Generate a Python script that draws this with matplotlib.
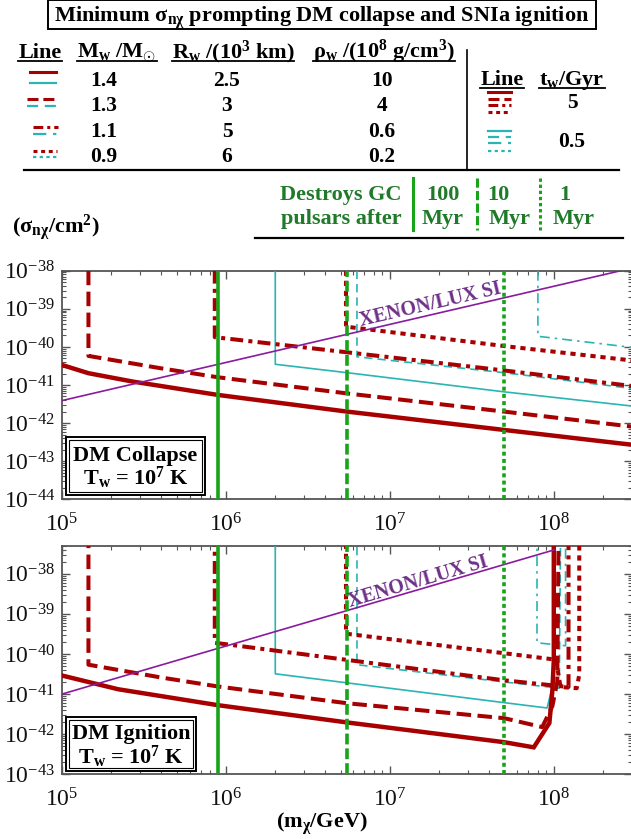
import numpy as np
import matplotlib
matplotlib.use('Agg')
import matplotlib.pyplot as plt
from matplotlib.lines import Line2D
from matplotlib.patches import Rectangle
from matplotlib.ticker import LogLocator, NullFormatter

# ---------------- data ----------------
# Top panel: DM collapse
col_red_solid_x = [1e5, 1.45e5, 2.7e5, 8.9e5, 5.5e6, 5e7, 3e8]
col_red_solid_y = [3.35e-41, 2.04e-41, 1.23e-41, 5.5e-42, 2.0e-42, 6.6e-43, 2.7e-43]
col_red_dash_x = [1.45e5, 1.45e5, 4e5, 8.9e5, 5.5e6, 5e7, 3e8]
col_red_dash_y = [1e-38, 5.8e-41, 2.75e-41, 1.6e-41, 6.0e-42, 2.0e-42, 8.1e-43]
col_red_dashdot_x = [8.55e5, 8.55e5, 5.5e6, 5e7, 3e8]
col_red_dashdot_y = [1e-38, 1.8e-40, 7.2e-41, 2.4e-41, 9.4e-42]
col_red_dot_x = [5.4e6, 5.4e6, 5e7, 3e8]
col_red_dot_y = [1e-38, 3.4e-40, 1.05e-40, 4.4e-41]
col_cyan_solid_x = [2e6, 2e6, 5.5e6, 5e7, 3e8]
col_cyan_solid_y = [1e-38, 3.5e-41, 2.1e-41, 6.6e-42, 2.8e-42]
col_cyan_dash_x = [6.3e6, 6.3e6, 5e7, 3e8]
col_cyan_dash_y = [1e-38, 5.5e-41, 2.1e-41, 8.1e-42]
col_cyan_dashdot_x = [8e7, 8e7, 3e8]
col_cyan_dashdot_y = [1e-38, 1.9e-40, 9.7e-41]
col_xenon_x = [1e5, 3e8]
col_xenon_y = [3.9e-42, 1.17e-38]

# Bottom panel: DM ignition
ign_red_solid_x = [1e5, 1.45e5, 2.2e5, 8.9e5, 5.5e6, 5e7, 7.55e7, 9.4e7, 9.8e7, 1.0e8, 1.0e8]
ign_red_solid_y = [2.9e-41, 2.0e-41, 1.32e-41, 5.3e-42, 1.96e-42, 6.3e-43, 4.7e-43, 1.9e-42, 1.2e-41, 7e-41, 1e-37]
ign_red_dash_x = [1.45e5, 1.45e5, 4e5, 8.9e5, 5.5e6, 5e7, 8.5e7, 9.8e7, 1.05e8, 1.07e8]
ign_red_dash_y = [1e-37, 5.4e-41, 2.6e-41, 1.55e-41, 5.9e-42, 2.5e-42, 1.5e-42, 5e-42, 2e-41, 1e-37]
ign_red_dashdot_x = [8.55e5, 8.55e5, 5.5e6, 5e7, 1.23e8, 1.23e8]
ign_red_dashdot_y = [1e-37, 1.9e-40, 7.1e-41, 2.2e-41, 1.5e-41, 1e-37]
ign_red_dot_x = [5.4e6, 5.4e6, 5e7, 1.03e8, 1.1e8, 1.38e8, 1.43e8, 1.43e8]
ign_red_dot_y = [1e-37, 3.2e-40, 1.04e-40, 7.2e-41, 1.5e-41, 1.4e-41, 3e-41, 1e-37]
ign_cyan_solid_x = [2e6, 2e6, 5.5e6, 5e7, 9.1e7, 9.8e7, 1.01e8, 1.02e8]
ign_cyan_solid_y = [1e-37, 3.2e-41, 1.9e-41, 6.1e-42, 4.5e-42, 1.5e-41, 7e-41, 1e-37]
ign_cyan_dash_x = [6.3e6, 6.3e6, 5e7, 1.08e8, 1.1e8]
ign_cyan_dash_y = [1e-37, 5.4e-41, 2.0e-41, 1.4e-41, 1e-37]
ign_cyan_dashdot_x = [7.9e7, 7.9e7, 1.18e8, 1.18e8]
ign_cyan_dashdot_y = [1e-37, 1.9e-40, 1.6e-40, 1e-37]
ign_xenon_x = [1e5, 1.02e8]
ign_xenon_y = [1e-41, 4e-38]

gc_pulsar_mass = [9e5, 5.5e6, 5e7]     # 100, 10, 1 Myr

table_masses = ['1.4', '1.3', '1.1', '0.9']
table_radii = ['2.5', '3', '5', '6']
table_rho = ['10', '4', '0.6', '0.2']
table_ages = ['5', '0.5']
pulsar_times = ['100', '10', '1']

# ---------------- styles ----------------
RED = '#a80000'
CYAN = '#2ab4b4'
GREEN_L = '#18a318'
GREEN_T = '#1f7a2a'
PURPLE = '#8a1a9e'
PURPLE_T = '#6e3188'

red_styles = [dict(ls='-', lw=3.2),
              dict(ls=(0, (3.6, 1.6)), lw=2.9),
              dict(ls=(0, (3.2, 1.3, 1.0, 1.3)), lw=2.9),
              dict(ls=(0, (1.3, 1.2)), lw=2.9)]
cyan_styles = [dict(ls='-', lw=1.2),
               dict(ls=(0, (5, 3)), lw=1.2),
               dict(ls=(0, (6, 3, 1.5, 3)), lw=1.2),
               dict(ls=(0, (1.5, 1.5)), lw=1.2)]
green_styles = [dict(ls='-', lw=2.6),
                dict(ls=(0, (3.0, 1.1)), lw=2.6),
                dict(ls=(0, (1.1, 0.9)), lw=2.6)]

plt.rcParams['font.family'] = ['Liberation Serif', 'DejaVu Serif']
plt.rcParams['mathtext.fontset'] = 'custom'
plt.rcParams['mathtext.rm'] = 'Liberation Serif'
plt.rcParams['mathtext.it'] = 'Liberation Serif:italic'
plt.rcParams['mathtext.bf'] = 'Liberation Serif:bold'

W, H = 631, 839
fig = plt.figure(figsize=(W / 100, H / 100), dpi=100)


def F(x, y):
    return (x / W, 1 - y / H)


def ftext(x, y, s, **kw):
    kw.setdefault('fontsize', 16)
    kw.setdefault('fontweight', 'bold')
    kw.setdefault('ha', 'center')
    kw.setdefault('va', 'baseline')
    return fig.text(*F(x, y), s, **kw)


def hline(x0, x1, y, **kw):
    fig.add_artist(Line2D([x0 / W, x1 / W], [1 - y / H] * 2, transform=fig.transFigure, **kw))


def vline(x, y0, y1, **kw):
    fig.add_artist(Line2D([x / W] * 2, [1 - y0 / H, 1 - y1 / H], transform=fig.transFigure, **kw))


def frect(x0, y0, x1, y1, **kw):
    fig.add_artist(Rectangle(F(x0, y1), (x1 - x0) / W, (y1 - y0) / H,
                             transform=fig.transFigure, **kw))


# ---------------- axes ----------------
ax1 = fig.add_axes([62 / W, 1 - 499.3 / H, 570 / W, 228.6 / H])
ax2 = fig.add_axes([62 / W, 1 - 774.3 / H, 570 / W, 228.6 / H])

for ax in (ax1, ax2):
    ax.set_xscale('log')
    ax.set_yscale('log')
    ax.set_xlim(1e5, 3e8)
    ax.xaxis.set_major_locator(LogLocator(base=10, numticks=20))
    ax.xaxis.set_minor_locator(LogLocator(base=10, subs=np.arange(2, 10), numticks=20))
    ax.yaxis.set_major_locator(LogLocator(base=10, numticks=20))
    ax.yaxis.set_minor_locator(LogLocator(base=10, subs=np.arange(2, 10), numticks=20))
    ax.xaxis.set_minor_formatter(NullFormatter())
    ax.yaxis.set_minor_formatter(NullFormatter())
    ax.tick_params(which='both', direction='in', top=True, right=True,
                   colors='#555555', labelcolor='#111111', labelsize=17)
    ax.tick_params(which='major', length=6, width=1.0)
    ax.tick_params(which='minor', length=3, width=0.8)
    ax.tick_params(axis='x', pad=10)
    ax.tick_params(axis='y', pad=5)
    for sp in ax.spines.values():
        sp.set_color('#555555')
        sp.set_linewidth(1.3)

ax1.set_ylim(1e-44, 1e-38)
ax2.set_ylim(1e-43, 5e-38)

top_red = [(col_red_solid_x, col_red_solid_y), (col_red_dash_x, col_red_dash_y),
           (col_red_dashdot_x, col_red_dashdot_y), (col_red_dot_x, col_red_dot_y)]
top_cyan = [(col_cyan_solid_x, col_cyan_solid_y), (col_cyan_dash_x, col_cyan_dash_y),
            (col_cyan_dashdot_x, col_cyan_dashdot_y)]
bot_red = [(ign_red_solid_x, ign_red_solid_y), (ign_red_dash_x, ign_red_dash_y),
           (ign_red_dashdot_x, ign_red_dashdot_y), (ign_red_dot_x, ign_red_dot_y)]
bot_cyan = [(ign_cyan_solid_x, ign_cyan_solid_y), (ign_cyan_dash_x, ign_cyan_dash_y),
            (ign_cyan_dashdot_x, ign_cyan_dashdot_y)]

for ax, reds, cyans, xen in ((ax1, top_red, top_cyan, (col_xenon_x, col_xenon_y)),
                              (ax2, bot_red, bot_cyan, (ign_xenon_x, ign_xenon_y))):
    for (xx, yy), st in zip(cyans, cyan_styles):
        ax.plot(xx, yy, color=CYAN, linestyle=st['ls'], lw=st['lw'], zorder=3)
    for (xx, yy), st in zip(reds, red_styles):
        ax.plot(xx, yy, color=RED, linestyle=st['ls'], lw=st['lw'], zorder=4,
                solid_joinstyle='miter')
    ax.plot(xen[0], xen[1], color=PURPLE, lw=1.2, zorder=5)
    for m, st in zip(gc_pulsar_mass, green_styles):
        ax.axvline(m, color=GREEN_L, linestyle=st['ls'], lw=st['lw'], zorder=6)


def xenon_label(ax, xx, yy, xc, yc):
    p1 = ax.transData.transform((xx[0], yy[0]))
    p2 = ax.transData.transform((xx[1], yy[1]))
    ang = np.degrees(np.arctan2(p2[1] - p1[1], p2[0] - p1[0]))
    ax.text(xc, yc, 'XENON/LUX SI', rotation=ang, rotation_mode='anchor',
            ha='center', va='center', color=PURPLE_T, fontsize=14.5,
            fontweight='bold', zorder=7)


xenon_label(ax1, col_xenon_x, col_xenon_y, 1.76e7, 1.3e-39)
xenon_label(ax2, ign_xenon_x, ign_xenon_y, 1.48e7, 6.2e-39)

# panel boxes (double frame)
for (x0, y0, x1, y1, t1, b1, b2) in ((66, 437, 205, 495, 'DM Collapse', 460.7, 485),
                                     (66, 716.7, 196, 770.7, 'DM Ignition', 739.3, 763.3)):
    frect(x0, y0, x1, y1, fill=True, fc='white', ec='black', lw=1.4, zorder=10)
    frect(x0 + 3, y0 + 3, x1 - 3, y1 - 3, fill=False, ec='black', lw=0.8, zorder=11)
    xc = (x0 + x1) / 2
    ftext(xc, b1, t1, zorder=12)
    ftext(xc, b2, r'$\mathbf{T_w}$ = 10$^{\mathbf{7}}$ K', zorder=12)

ftext(322, 828, r'($\mathbf{m_{\chi}}$/GeV)')
ftext(12, 233, r'($\mathbf{\sigma_{n\chi}}$/cm$^{\mathbf{2}}$)', ha='left')

# ---------------- header table ----------------
frect(48, 0.5, 596, 29, fill=False, ec='black', lw=1.4)
ftext(322, 21.7, r'Minimum $\mathbf{\sigma_{n\chi}}$ prompting DM collapse and SNIa ignition')

hdrs = [ftext(40, 58.3, 'Line'),
        ftext(117, 58.3, r'M$_{\mathbf{w}}$ /M$_{\odot}$'),
        ftext(233, 58.3, r'R$_{\mathbf{w}}$ /(10$^{\mathbf{3}}$ km)'),
        ftext(384, 58.3, r'ρ$_{\mathbf{w}}$ /(10$^{\mathbf{8}}$ g/cm$^{\mathbf{3}}$)')]
hdrs_r = [ftext(502, 85, 'Line'),
          ftext(572, 85, r't$_{\mathbf{w}}$/Gyr')]

row_base = [86, 111, 136.7, 162.3]
for b, m, r, rho in zip(row_base, table_masses, table_radii, table_rho):
    ftext(104, b, m, fontsize=15.5)
    ftext(227, b, r, fontsize=15.5)
    ftext(382, b, rho, fontsize=15.5)

# left legend samples: red above cyan
samp_rows = [(30, 56, 72, 83), (27, 56, 99, 106), (33, 58, 127, 134), (33, 57, 151, 157)]
for (x0, x1, yr, yc), rs, cs in zip(samp_rows, red_styles, cyan_styles):
    hline(x0, x1, yr, color=RED, linestyle=rs['ls'], lw=2.2)
    hline(x0, x1, yc, color=CYAN, linestyle=cs['ls'], lw=1.6)

# right legend samples
for y, rs in zip([92, 99, 105, 112], red_styles):
    hline(488, 511, y, color=RED, linestyle=rs['ls'], lw=2.2)
for y, cs in zip([131, 137, 143, 151], cyan_styles):
    hline(488, 511, y, color=CYAN, linestyle=cs['ls'], lw=1.6)
ftext(572, 108, table_ages[0], fontsize=15.5)
ftext(572, 146.7, table_ages[1], fontsize=15.5)

hline(24, 619, 170, color='black', lw=1.6)
vline(467, 50, 170, color='black', lw=1.2)

# green pulsar block
ftext(402, 200, 'Destroys GC', color=GREEN_T, ha='right')
ftext(402, 224, 'pulsars after', color=GREEN_T, ha='right')
for xg, st in zip([413, 477, 540], green_styles):
    vline(xg, 178, 230, color=GREEN_L, linestyle=st['ls'], lw=2.2)
for xt, xm, t in zip([443, 498, 565], [443, 510, 574], pulsar_times):
    ftext(xt, 200, t, color=GREEN_T)
    ftext(xm, 224, 'Myr', color=GREEN_T)
hline(255, 623, 238, color='black', lw=1.6)

# underlines
fig.canvas.draw()
r = fig.canvas.get_renderer()
for t in hdrs:
    bb = t.get_window_extent(r)
    hline(bb.x0, bb.x1, 60.7, color='black', lw=1.3)
for t in hdrs_r:
    bb = t.get_window_extent(r)
    hline(bb.x0, bb.x1, 87.5, color='black', lw=1.3)

fig.savefig('out.png', dpi=100)
